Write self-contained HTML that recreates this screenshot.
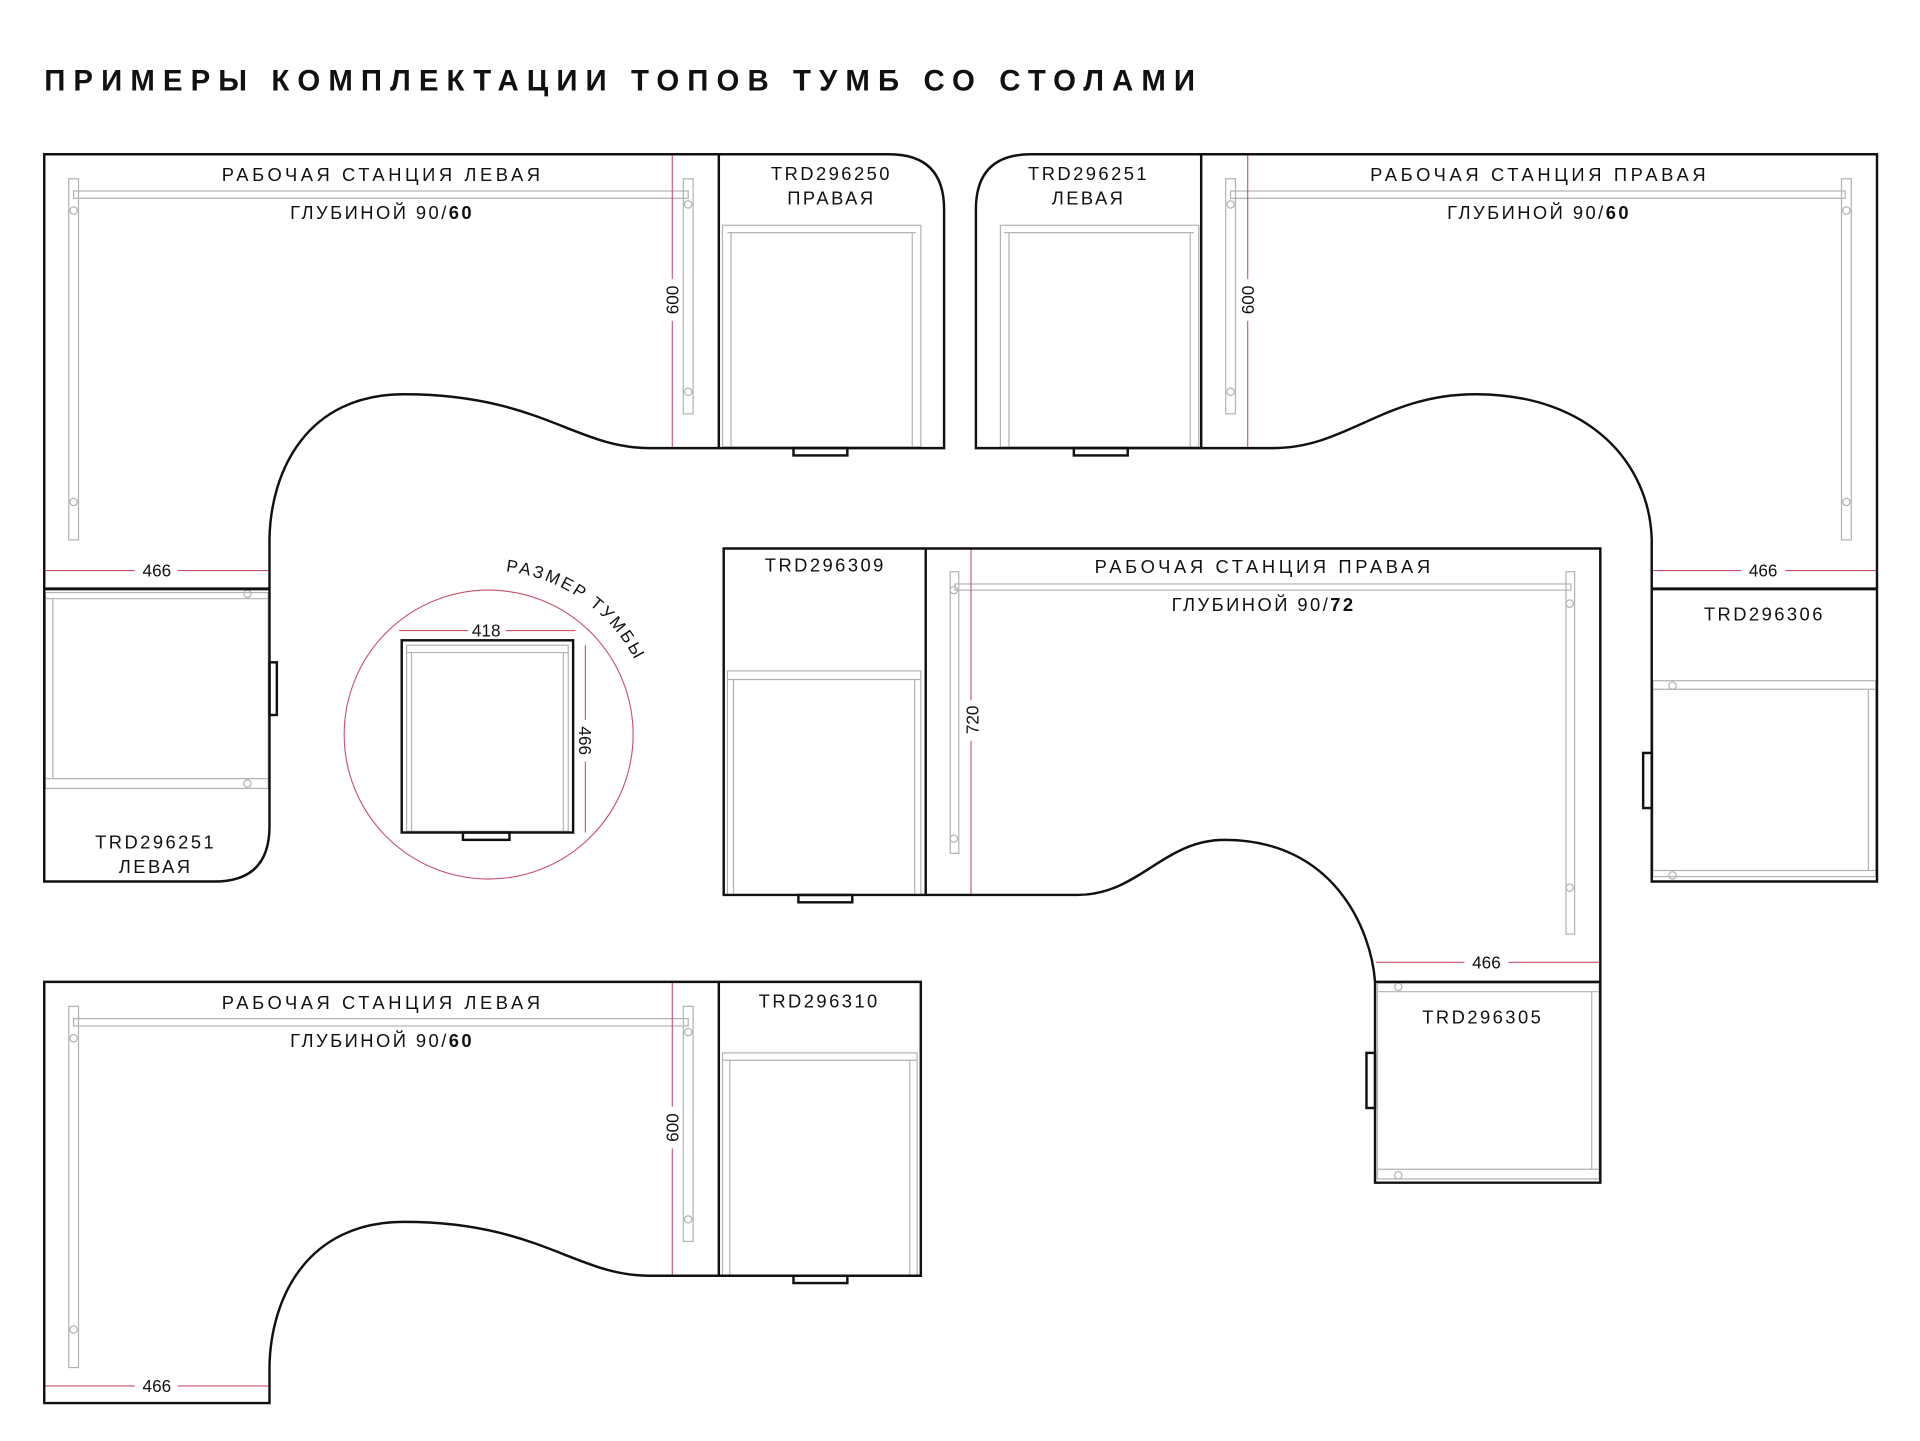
<!DOCTYPE html>
<html><head><meta charset="utf-8"><style>
html,body{margin:0;padding:0;background:#fff}
svg{display:block}
text{font-family:"Liberation Sans Narrow","Liberation Sans",sans-serif;fill:#111}
.k{fill:none;stroke:#111;stroke-width:2}
.g{fill:none;stroke:#b3b3b3;stroke-width:1}
.r{fill:none;stroke:#c8506a;stroke-width:0.9}
.lb{font-size:15px;letter-spacing:2px}
.dm{font-size:14px}
</style></head><body>
<svg width="1920" height="1441" viewBox="0 0 1568 1177" xmlns="http://www.w3.org/2000/svg">
<rect width="1568" height="1177" fill="#fff"/>
<text x="36" y="74" style="font-family:'Liberation Sans',sans-serif;font-weight:bold;font-size:24px" textLength="940" lengthAdjust="spacing">ПРИМЕРЫ КОМПЛЕКТАЦИИ ТОПОВ ТУМБ СО СТОЛАМИ</text>

<!-- ===== TOP-LEFT ===== -->
<g>
<rect class="g" x="56" y="146" width="8" height="295"/>
<rect class="g" x="558" y="146" width="8" height="192"/>
<rect class="g" x="60" y="156" width="502" height="6"/>
<circle class="g" cx="60" cy="172" r="3"/><circle class="g" cx="60" cy="410" r="3"/>
<circle class="g" cx="562" cy="167" r="3"/><circle class="g" cx="562" cy="320" r="3"/>
<rect class="g" x="590" y="184" width="162" height="181"/><line class="g" x1="594" y1="190" x2="748" y2="190"/>
<line class="g" x1="597" y1="190" x2="597" y2="365"/><line class="g" x1="745" y1="190" x2="745" y2="365"/>
<rect class="g" x="37" y="484" width="182" height="160"/><line class="g" x1="37" y1="489" x2="219" y2="489"/><line class="g" x1="37" y1="636" x2="219" y2="636"/>
<line class="g" x1="43" y1="489" x2="43" y2="636"/>
<circle class="g" cx="202" cy="485" r="3"/><circle class="g" cx="202" cy="640" r="3"/>
<line class="r" x1="549" y1="126" x2="549" y2="228"/><line class="r" x1="549" y1="262" x2="549" y2="366"/>
<text class="dm" transform="translate(554,245) rotate(-90)" text-anchor="middle">600</text>
<line class="r" x1="37" y1="466" x2="110" y2="466"/><line class="r" x1="145" y1="466" x2="219" y2="466"/>
<text class="dm" x="128" y="471" text-anchor="middle">466</text>
<path class="k" d="M587,366 H530 C470,366 440,322 330,322 C250,322 221,385 220,440 V675 Q220,720 175,720 H36 V126 H726 Q771,126 771,171 V366 H587 V126"/>
<line class="k" x1="36" y1="481" x2="220" y2="481" style="stroke-width:2.5"/>
<rect class="k" x="220" y="541" width="6" height="43"/>
<rect class="k" x="648" y="366" width="44" height="6"/>
<text class="lb" x="312" y="148" text-anchor="middle" textLength="262">РАБОЧАЯ СТАНЦИЯ ЛЕВАЯ</text>
<text class="lb" x="312" y="179" text-anchor="middle">ГЛУБИНОЙ 90/<tspan font-weight="bold">60</tspan></text>
<text class="lb" x="679" y="147" text-anchor="middle">TRD296250</text>
<text class="lb" x="679" y="167" text-anchor="middle">ПРАВАЯ</text>
<text class="lb" x="127" y="693" text-anchor="middle">TRD296251</text>
<text class="lb" x="127" y="713" text-anchor="middle">ЛЕВАЯ</text>
</g>

<!-- ===== TOP-RIGHT ===== -->
<g>
<rect class="g" x="1001" y="146" width="8" height="192"/>
<rect class="g" x="1504" y="146" width="8" height="295"/>
<rect class="g" x="1005" y="156" width="502" height="6"/>
<circle class="g" cx="1005" cy="167" r="3"/><circle class="g" cx="1005" cy="320" r="3"/>
<circle class="g" cx="1508" cy="172" r="3"/><circle class="g" cx="1508" cy="410" r="3"/>
<rect class="g" x="817" y="184" width="162" height="181"/><line class="g" x1="820" y1="190" x2="975" y2="190"/>
<line class="g" x1="824" y1="190" x2="824" y2="365"/><line class="g" x1="972" y1="190" x2="972" y2="365"/>
<rect class="g" x="1350" y="556" width="182" height="160"/><line class="g" x1="1350" y1="563" x2="1532" y2="563"/><line class="g" x1="1350" y1="711" x2="1532" y2="711"/>
<line class="g" x1="1526" y1="563" x2="1526" y2="711"/>
<circle class="g" cx="1366" cy="560" r="3"/><circle class="g" cx="1366" cy="715" r="3"/>
<line class="r" x1="1019" y1="126" x2="1019" y2="228"/><line class="r" x1="1019" y1="262" x2="1019" y2="366"/>
<text class="dm" transform="translate(1024,245) rotate(-90)" text-anchor="middle">600</text>
<line class="r" x1="1350" y1="466" x2="1422" y2="466"/><line class="r" x1="1458" y1="466" x2="1532" y2="466"/>
<text class="dm" x="1440" y="471" text-anchor="middle">466</text>
<path class="k" d="M981,366 H1040 C1100,366 1130,322 1205,322 C1300,322 1347,380 1349,440 V720 H1533 V126 H842 Q797,126 797,171 V366 H981 V126"/>
<line class="k" x1="1349" y1="481" x2="1533" y2="481" style="stroke-width:2.5"/>
<rect class="k" x="1342" y="615" width="7" height="45"/>
<rect class="k" x="877" y="366" width="44" height="6"/>
<text class="lb" x="1257" y="148" text-anchor="middle" textLength="276">РАБОЧАЯ СТАНЦИЯ ПРАВАЯ</text>
<text class="lb" x="1257" y="179" text-anchor="middle">ГЛУБИНОЙ 90/<tspan font-weight="bold">60</tspan></text>
<text class="lb" x="889" y="147" text-anchor="middle">TRD296251</text>
<text class="lb" x="889" y="167" text-anchor="middle">ЛЕВАЯ</text>
<text class="lb" x="1441" y="507" text-anchor="middle">TRD296306</text>
</g>

<!-- ===== CIRCLE ===== -->
<g>
<circle class="r" cx="399" cy="600" r="118"/>
<rect class="g" x="332" y="527" width="132" height="152"/><line class="g" x1="332" y1="533" x2="464" y2="533"/>
<line class="g" x1="336" y1="533" x2="336" y2="679"/><line class="g" x1="460" y1="533" x2="460" y2="679"/>
<rect class="k" x="328" y="523" width="140" height="157"/>
<rect class="k" x="378" y="680" width="38" height="6"/>
<line class="r" x1="326" y1="515" x2="382" y2="515"/><line class="r" x1="413" y1="515" x2="470" y2="515"/>
<text class="dm" x="397" y="520" text-anchor="middle">418</text>
<line class="r" x1="478" y1="527" x2="478" y2="588"/><line class="r" x1="478" y1="622" x2="478" y2="680"/>
<text class="dm" transform="translate(473,605) rotate(90)" text-anchor="middle">466</text>
<path id="arc" d="M399,466 A134,134 0 0 1 533,600" fill="none"/>
<text style="font-size:14px;letter-spacing:2px"><textPath href="#arc" startOffset="14">РАЗМЕР ТУМБЫ</textPath></text>
</g>

<!-- ===== MIDDLE ===== -->
<g>
<rect class="g" x="594" y="548" width="158" height="183"/><line class="g" x1="594" y1="555" x2="752" y2="555"/>
<line class="g" x1="599" y1="555" x2="599" y2="731"/><line class="g" x1="747" y1="555" x2="747" y2="731"/>
<rect class="g" x="776" y="467" width="7" height="230"/>
<rect class="g" x="1279" y="467" width="7" height="296"/>
<rect class="g" x="780" y="477" width="503" height="5"/>
<circle class="g" cx="779" cy="482" r="3"/><circle class="g" cx="779" cy="685" r="3"/>
<circle class="g" cx="1282" cy="493" r="3"/><circle class="g" cx="1282" cy="725" r="3"/>
<rect class="g" x="1125" y="803" width="181" height="160"/><line class="g" x1="1125" y1="810" x2="1306" y2="810"/><line class="g" x1="1125" y1="955" x2="1306" y2="955"/>
<line class="g" x1="1300" y1="810" x2="1300" y2="955"/>
<circle class="g" cx="1142" cy="806" r="3"/><circle class="g" cx="1142" cy="960" r="3"/>
<line class="r" x1="793" y1="448" x2="793" y2="572"/><line class="r" x1="793" y1="605" x2="793" y2="731"/>
<text class="dm" transform="translate(799,588) rotate(-90)" text-anchor="middle">720</text>
<line class="r" x1="1124" y1="786" x2="1196" y2="786"/><line class="r" x1="1232" y1="786" x2="1306" y2="786"/>
<text class="dm" x="1214" y="791" text-anchor="middle">466</text>
<path class="k" d="M756,731 H880 C930,731 950,686 1000,686 C1090,686 1120,760 1123,802 V966 H1307 V448 H591 V731 H756 V448"/>
<line class="k" x1="1123" y1="802" x2="1307" y2="802"/>
<rect class="k" x="1116" y="860" width="7" height="45"/>
<rect class="k" x="652" y="731" width="44" height="6"/>
<text class="lb" x="1032" y="468" text-anchor="middle" textLength="276">РАБОЧАЯ СТАНЦИЯ ПРАВАЯ</text>
<text class="lb" x="1032" y="499" text-anchor="middle">ГЛУБИНОЙ 90/<tspan font-weight="bold">72</tspan></text>
<text class="lb" x="674" y="467" text-anchor="middle">TRD296309</text>
<text class="lb" x="1211" y="836" text-anchor="middle">TRD296305</text>
</g>

<!-- ===== BOTTOM-LEFT ===== -->
<g>
<rect class="g" x="56" y="822" width="8" height="295"/>
<rect class="g" x="558" y="822" width="8" height="192"/>
<rect class="g" x="60" y="832" width="502" height="6"/>
<circle class="g" cx="60" cy="848" r="3"/><circle class="g" cx="60" cy="1086" r="3"/>
<circle class="g" cx="562" cy="843" r="3"/><circle class="g" cx="562" cy="996" r="3"/>
<rect class="g" x="590" y="860" width="159" height="182"/><line class="g" x1="590" y1="866" x2="749" y2="866"/>
<line class="g" x1="596" y1="866" x2="596" y2="1042"/><line class="g" x1="743" y1="866" x2="743" y2="1042"/>
<line class="r" x1="549" y1="802" x2="549" y2="904"/><line class="r" x1="549" y1="938" x2="549" y2="1042"/>
<text class="dm" transform="translate(554,921) rotate(-90)" text-anchor="middle">600</text>
<line class="r" x1="37" y1="1132" x2="110" y2="1132"/><line class="r" x1="145" y1="1132" x2="219" y2="1132"/>
<text class="dm" x="128" y="1137" text-anchor="middle">466</text>
<path class="k" d="M587,1042 H530 C470,1042 440,998 330,998 C250,998 221,1061 220,1116 V1146 H36 V802 H752 V1042 H587 V802"/>
<rect class="k" x="648" y="1042" width="44" height="6"/>
<text class="lb" x="312" y="824" text-anchor="middle" textLength="262">РАБОЧАЯ СТАНЦИЯ ЛЕВАЯ</text>
<text class="lb" x="312" y="855" text-anchor="middle">ГЛУБИНОЙ 90/<tspan font-weight="bold">60</tspan></text>
<text class="lb" x="669" y="823" text-anchor="middle">TRD296310</text>
</g>
</svg>
</body></html>
